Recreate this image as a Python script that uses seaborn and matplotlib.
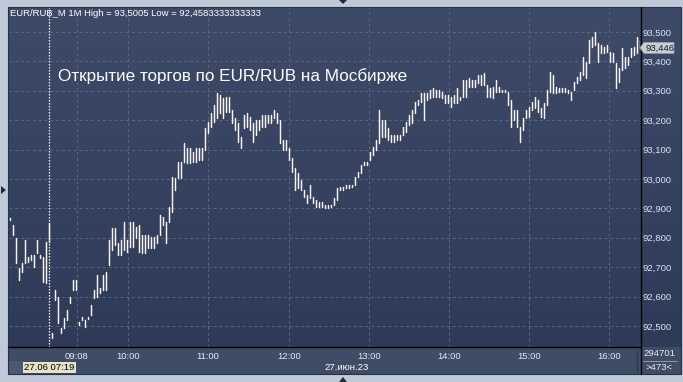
import numpy as np
import pandas as pd
import matplotlib
matplotlib.use("Agg")
import matplotlib.pyplot as plt
import seaborn as sns
from matplotlib.patches import Rectangle, Polygon
from matplotlib.lines import Line2D
from matplotlib.colors import LinearSegmentedColormap

# ---------------- data ----------------
high = [
    92.867, 92.844, 92.799, 92.697, 92.714, 92.793, 92.735, 92.741, 92.741, 92.793,
    92.741, 92.735, 92.786, 92.850, 92.476, 92.622, 92.599, 92.493, 92.527, 92.554,
    92.599, 92.656, 92.656, 92.512, 92.531, 92.520, 92.530, 92.571, 92.622, 92.673,
    92.629, 92.673, 92.684, 92.793, 92.833, 92.833, 92.782, 92.793, 92.854, 92.793,
    92.854, 92.854, 92.837, 92.844, 92.810, 92.810, 92.810, 92.803, 92.803, 92.810,
    92.878, 92.871, 92.854, 92.905, 93.007, 93.003, 93.058, 93.058, 93.122, 93.105,
    93.105, 93.092, 93.105, 93.105, 93.105, 93.173, 93.194, 93.224, 93.252, 93.293,
    93.286, 93.276, 93.279, 93.279, 93.235, 93.207, 93.190, 93.143, 93.218, 93.224,
    93.211, 93.190, 93.201, 93.201, 93.218, 93.218, 93.218, 93.218, 93.235, 93.224,
    93.201, 93.133, 93.133, 93.105, 93.071, 93.037, 93.020, 92.997, 92.963, 92.946,
    92.980, 92.939, 92.929, 92.922, 92.922, 92.912, 92.912, 92.912, 92.935, 92.969,
    92.973, 92.973, 92.980, 92.980, 92.980, 93.007, 93.024, 93.048, 93.058, 93.058,
    93.092, 93.109, 93.133, 93.235, 93.201, 93.201, 93.173, 93.150, 93.150, 93.150,
    93.150, 93.177, 93.194, 93.218, 93.235, 93.262, 93.269, 93.293, 93.293, 93.293,
    93.303, 93.310, 93.303, 93.303, 93.296, 93.286, 93.286, 93.279, 93.286, 93.310,
    93.279, 93.337, 93.337, 93.344, 93.337, 93.337, 93.354, 93.354, 93.361, 93.320,
    93.310, 93.313, 93.337, 93.313, 93.303, 93.303, 93.296, 93.269, 93.235, 93.235,
    93.177, 93.207, 93.235, 93.245, 93.262, 93.279, 93.269, 93.241, 93.259, 93.303,
    93.364, 93.354, 93.313, 93.310, 93.310, 93.310, 93.303, 93.296, 93.330, 93.347,
    93.364, 93.415, 93.398, 93.473, 93.483, 93.500, 93.463, 93.456, 93.449, 93.456,
    93.432, 93.429, 93.395, 93.378, 93.446, 93.415, 93.415, 93.446, 93.449, 93.483,
    93.473,
]
low = [
    92.861, 92.810, 92.714, 92.656, 92.684, 92.714, 92.718, 92.725, 92.701, 92.748,
    92.731, 92.650, 92.646, 92.786, 92.459, 92.588, 92.510, 92.476, 92.493, 92.520,
    92.578, 92.622, 92.622, 92.505, 92.520, 92.497, 92.524, 92.537, 92.595, 92.599,
    92.612, 92.622, 92.622, 92.707, 92.759, 92.776, 92.741, 92.741, 92.759, 92.752,
    92.769, 92.769, 92.799, 92.752, 92.748, 92.748, 92.765, 92.765, 92.765, 92.782,
    92.810, 92.844, 92.782, 92.854, 92.888, 92.963, 93.003, 93.003, 93.058, 93.054,
    93.054, 93.058, 93.058, 93.065, 93.065, 93.099, 93.156, 93.177, 93.194, 93.207,
    93.224, 93.207, 93.228, 93.228, 93.190, 93.167, 93.126, 93.105, 93.173, 93.177,
    93.167, 93.126, 93.150, 93.167, 93.177, 93.177, 93.190, 93.190, 93.207, 93.190,
    93.122, 93.099, 93.099, 93.065, 93.024, 92.963, 92.969, 92.963, 92.939, 92.918,
    92.935, 92.918, 92.905, 92.905, 92.905, 92.901, 92.901, 92.905, 92.912, 92.929,
    92.963, 92.963, 92.969, 92.969, 92.973, 92.980, 93.007, 93.020, 93.048, 93.048,
    93.065, 93.082, 93.099, 93.122, 93.143, 93.143, 93.133, 93.126, 93.126, 93.133,
    93.133, 93.150, 93.160, 93.184, 93.190, 93.224, 93.252, 93.262, 93.201, 93.269,
    93.276, 93.279, 93.279, 93.279, 93.276, 93.259, 93.259, 93.245, 93.259, 93.259,
    93.269, 93.279, 93.279, 93.313, 93.313, 93.313, 93.327, 93.320, 93.320, 93.279,
    93.279, 93.276, 93.296, 93.296, 93.296, 93.296, 93.252, 93.177, 93.201, 93.177,
    93.126, 93.167, 93.207, 93.211, 93.235, 93.241, 93.228, 93.211, 93.207, 93.252,
    93.296, 93.293, 93.293, 93.296, 93.296, 93.296, 93.293, 93.269, 93.303, 93.327,
    93.337, 93.354, 93.344, 93.395, 93.449, 93.456, 93.398, 93.429, 93.429, 93.432,
    93.398, 93.398, 93.310, 93.330, 93.371, 93.378, 93.388, 93.415, 93.422, 93.429,
    93.446,
]
last_price = 93.446
tick_pos = [22.3, 39.3, 66.0, 93.0, 119.7, 146.3, 173.0, 199.7]
tick_labels = ["09:08", "10:00", "11:00", "12:00", "13:00", "14:00", "15:00", "16:00"]
y_ticks = [92.5, 92.6, 92.7, 92.8, 92.9, 93.0, 93.1, 93.2, 93.3, 93.4, 93.5]
cursor_bar = 13
header = "EUR/RUB_M 1M High = 93,5005 Low = 92,4583333333333"
title = "Открытие торгов по EUR/RUB на Мосбирже"
cursor_label = "27.06 07:19"
date_label = "27.июн.23"
volume_label = "294701"
count_label = ">473<"

# ---------------- figure ----------------
W, H = 683, 382
sns.set_theme(style="dark")
plt.rcParams["font.family"] = ["Liberation Sans", "DejaVu Sans"]

fig = plt.figure(figsize=(W / 100, H / 100), dpi=100)
fig.patch.set_facecolor("#bfc9d8")


def fx(x):
    return x / W


def fy(y):
    return 1 - y / H


# gradient background panel (plot + right scale + bottom band)
bg = fig.add_axes([fx(8), fy(374), fx(681 - 8), (374 - 7) / H])
bg.set_zorder(-5)
cmap = LinearSegmentedColormap.from_list("g", ["#3e4b68", "#2d3a57"])
bg.imshow(np.linspace(0, 1, 256).reshape(-1, 1), aspect="auto", cmap=cmap,
          extent=[0, 1, 0, 1])
# bottom band drawn inside the background axes (axes-fraction coords)
band_h = (374 - 347) / (374 - 7)
bg.add_patch(Rectangle((0, 0), 1, band_h, transform=bg.transAxes,
                       facecolor="#3f4c66", edgecolor="none", zorder=3))
bg.add_patch(Rectangle((0, 0), 16 / (681 - 8), (374 - 361) / (374 - 7),
                       transform=bg.transAxes, facecolor="#4b5870",
                       edgecolor="none", zorder=4))
bg.set_xlim(0, 1)
bg.set_ylim(0, 1)
bg.set_axis_off()

# outer border
fig.patches.append(Rectangle((fx(8), fy(374)), fx(681 - 8), (374 - 7) / H,
                             transform=fig.transFigure, facecolor="none",
                             edgecolor="#27324a", lw=0.8, zorder=2))

ax = fig.add_axes([fx(9), fy(347), fx(640 - 9), (347 - 7) / H])
ax.set_facecolor("none")
ax.set_zorder(1)

idx = np.arange(len(high))
df = pd.DataFrame({
    "bar": np.concatenate([idx, idx]),
    "price": np.concatenate([high, low]),
})
sns.lineplot(data=df, x="bar", y="price", units="bar", estimator=None,
             color="#fbf3f1", lw=1.05, ax=ax, legend=False, sort=False)

ax.set_xlim(-0.333, 210)
ax.set_ylim(92.4286, 93.585)
ax.set_xlabel("")
ax.set_ylabel("")
ax.set_xticks(tick_pos)
ax.set_xticklabels(tick_labels)
ax.set_yticks(y_ticks)
ax.set_yticklabels([f"{v:.3f}".replace(".", ",") for v in y_ticks])
ax.yaxis.tick_right()
ax.xaxis.tick_bottom()
ax.tick_params(axis="y", length=0, pad=2.0, labelsize=6.8, colors="#dbe3f4",
               right=True, labelright=True)
ax.tick_params(axis="x", length=0, pad=3.5, labelsize=6.8, colors="#e6ebf3",
               bottom=True, labelbottom=True)
ax.grid(True, color="#596784", ls=(0, (3, 3)), lw=0.7)
for s in ["top", "left", "right", "bottom"]:
    ax.spines[s].set_visible(False)

# cursor line
ax.axvline(cursor_bar, color="white", ls=(0, (1.2, 1.2)), lw=0.9, zorder=5)

# black separators
fig.lines.append(Line2D([fx(8), fx(640)], [fy(347), fy(347)], color="black",
                        lw=1.0, transform=fig.transFigure, zorder=3))
fig.lines.append(Line2D([fx(640.5), fx(640.5)], [fy(7), fy(374)], color="black",
                        lw=1.0, transform=fig.transFigure, zorder=3))
fig.lines.append(Line2D([fx(637), fx(637)], [fy(350), fy(372)], color="#2a354c",
                        lw=0.8, transform=fig.transFigure, zorder=3))
fig.lines.append(Line2D([fx(643), fx(677)], [fy(361), fy(361)], color="#9aa6bb",
                        lw=0.6, transform=fig.transFigure, zorder=3))

# texts
fig.text(fx(10), fy(14), header, fontsize=6.8, color="white", va="center",
         ha="left", zorder=6)
fig.text(fx(58), fy(76), title, fontsize=12.3, color="white", va="center",
         ha="left", zorder=6)
fig.text(fx(24), fy(367.5), cursor_label, fontsize=6.8, color="black",
         va="center", ha="left", zorder=6,
         bbox=dict(boxstyle="square,pad=0.15", fc="#e7e3c6", ec="none"))
fig.text(fx(324), fy(367.5), date_label, fontsize=6.8, color="white",
         va="center", ha="left", zorder=6)
fig.text(fx(659), fy(354), volume_label, fontsize=6.8, color="#e6ebf3",
         va="center", ha="center", zorder=6)
fig.text(fx(659), fy(368), count_label, fontsize=6.8, color="#e6ebf3",
         va="center", ha="center", zorder=6)

# last price box with pointer
y_last = ax.transData.transform((0, last_price))[1]
yl = y_last / fig.bbox.height
bh = 11 / H
fig.patches.append(Polygon([[fx(640), yl], [fx(644), yl + bh / 2], [fx(674), yl + bh / 2],
                            [fx(674), yl - bh / 2], [fx(644), yl - bh / 2]],
                           closed=True, transform=fig.transFigure, fc="#c8cdd6",
                           ec="#9aa3b2", lw=0.5, zorder=6))
fig.text(fx(645), yl, f"{last_price:.3f}".replace(".", ","), fontsize=6.8,
         color="#1a1a1a", va="center", ha="left", zorder=7)

# little triangle markers in the frame
fig.patches.append(Polygon([[fx(339), fy(0)], [fx(347), fy(0)], [fx(343), fy(4)]],
                           transform=fig.transFigure, fc="#1f2a3c", ec="none"))
fig.patches.append(Polygon([[fx(339), fy(382)], [fx(347), fy(382)], [fx(343), fy(377)]],
                           transform=fig.transFigure, fc="#1f2a3c", ec="none"))
fig.patches.append(Polygon([[fx(1), fy(186)], [fx(1), fy(194)], [fx(6), fy(190)]],
                           transform=fig.transFigure, fc="#1f2a3c", ec="none"))

fig.savefig("out.png", dpi=100)
